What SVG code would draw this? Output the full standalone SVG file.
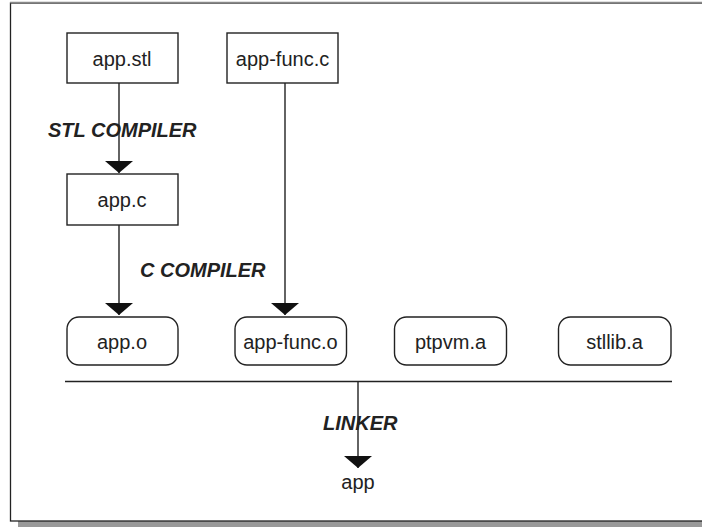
<svg xmlns="http://www.w3.org/2000/svg" width="702" height="527" viewBox="0 0 702 527">
<defs>
<style>
.box{fill:#fff;stroke:#222;stroke-width:1.4}
.lbl{font-family:"Liberation Sans",Arial,sans-serif;font-size:20px;fill:#222;text-anchor:middle}
.step{font-family:"Liberation Sans",Arial,sans-serif;font-size:20px;font-weight:bold;font-style:italic;fill:#222}
.conn{stroke:#222;stroke-width:1.4;fill:none}
</style>
<marker id="ah" markerWidth="12" markerHeight="28" refX="12" refY="14" orient="auto" markerUnits="userSpaceOnUse" viewBox="0 0 12 28">
<path d="M0,0 L12,14 L0,28 Z" fill="#111"/>
</marker>
</defs>
<rect x="0" y="0" width="702" height="527" fill="#fff"/>
<rect x="18" y="521" width="684" height="6" fill="#999"/>
<rect x="10.5" y="3" width="700" height="518" fill="#fff" stroke="#222" stroke-width="1.3"/>
<line x1="10" y1="2.5" x2="702" y2="2.5" stroke="#888" stroke-width="1.5"/>
<g id="connectors">
<line class="conn" x1="119" y1="83" x2="119" y2="173" marker-end="url(#ah)"/>
<line class="conn" x1="119" y1="225" x2="119" y2="315" marker-end="url(#ah)"/>
<line class="conn" x1="285" y1="83" x2="285" y2="315" marker-end="url(#ah)"/>
<line class="conn" x1="65" y1="381.5" x2="672" y2="381.5"/>
<line class="conn" x1="358" y1="381.5" x2="358" y2="468" marker-end="url(#ah)"/>
</g>
<g id="labels">
<text class="step" x="48" y="137">STL COMPILER</text>
<text class="step" x="140" y="277">C COMPILER</text>
<text class="step" x="323" y="430">LINKER</text>
</g>
<g id="app-stl"><rect class="box" x="67" y="33" width="111" height="50"/><text class="lbl" x="122" y="65.5">app.stl</text></g>
<g id="app-func-c"><rect class="box" x="227" y="33" width="111" height="50"/><text class="lbl" x="282.5" y="65.5">app-func.c</text></g>
<g id="app-c"><rect class="box" x="67" y="174" width="111" height="51"/><text class="lbl" x="122" y="207">app.c</text></g>
<g id="app-o"><rect class="box" x="67" y="317" width="111" height="48" rx="12" ry="12"/><text class="lbl" x="122" y="348.5">app.o</text></g>
<g id="app-func-o"><rect class="box" x="235" y="317" width="111.5" height="48" rx="12" ry="12"/><text class="lbl" x="290.5" y="348.5">app-func.o</text></g>
<g id="ptpvm-a"><rect class="box" x="394.5" y="317" width="112" height="48" rx="12" ry="12"/><text class="lbl" x="450.5" y="348.5">ptpvm.a</text></g>
<g id="stllib-a"><rect class="box" x="558.5" y="317" width="112.5" height="48" rx="12" ry="12"/><text class="lbl" x="614.5" y="348.5">stllib.a</text></g>
<g id="app"><text class="lbl" x="358" y="489">app</text></g>
</svg>
